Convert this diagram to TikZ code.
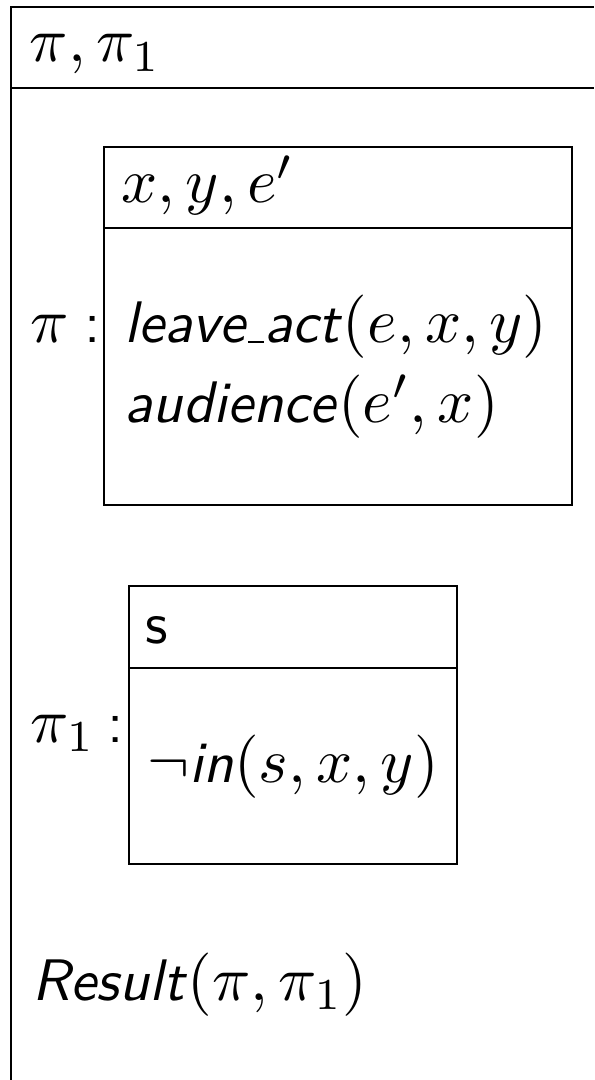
\RequirePackage{fix-cm}
\documentclass[tikz,border=0pt]{standalone}
\DeclareMathSizes{10}{10.8}{7.55}{5.4}
\newcommand{\drsus}{\kern.04em\rule{.26em}{.04em}\kern.02em}
\begin{document}
\begin{tikzpicture}[x=0.5pt,y=-0.5pt,line width=0.6pt,
		txt/.style={anchor=base west,inner sep=0pt,scale=2.93,transform shape},
		colon/.style={anchor=base east,inner sep=0pt,scale=2.93,transform shape,font=\sffamily}]
		\useasboundingbox (0,0) rectangle (594,1080);
		\draw (11,1080) -- (11,7) -- (594,7);
		\draw (11,88) -- (594,88);
		\node[txt] (refs) at (28,62) {$\pi,\pi_1$};
		
		\draw (104,147) rectangle (572,505);
		\draw (104,228) -- (572,228);
		\node[txt] (piref) at (120,203) {$x,y,e'$};
		\node[txt] (pilbl) at (29,343) {$\pi$};
		\node[colon] (picol) at (103,343) {:};
		\node[txt] (leave) at (123,343) {\textsf{\textit{leave\drsus act}}$(e,x,y)$};
		\node[txt] (aud) at (123,422) {\textsf{\textit{audience}}$(e',x)$};
		
		\draw (129,586) rectangle (457,864);
		\draw (129,668) -- (457,668);
		\node[txt] (sref) at (144,643) {\textsf{s}};
		\node[txt] (pi1lbl) at (29,742) {$\pi_1$};
		\node[colon] (pi1col) at (126,742) {:};
		\node[txt] (notin) at (146,782) {$\neg$\textsf{\textit{in}}$(s,x,y)$};
		
		\node[txt] (result) at (31,1000) {\textsf{\textit{Result}}$(\pi,\pi_1)$};
	\end{tikzpicture}
\end{document}
